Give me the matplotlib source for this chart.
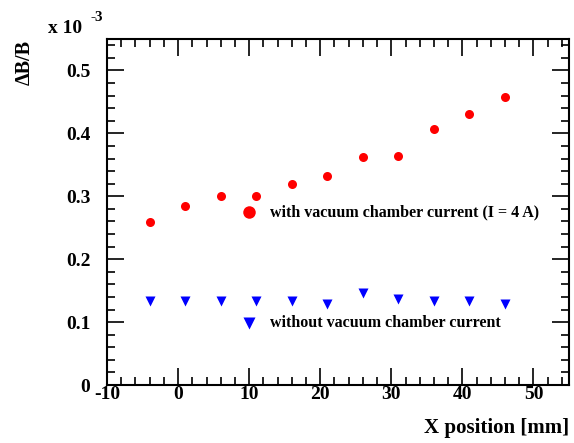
import numpy as np
from matplotlib import pyplot as plt
from matplotlib.ticker import MultipleLocator

# measurement positions [mm] and relative field error (units of 1e-3)
x_pos = [-4, 1, 6, 11, 16, 21, 26, 31, 36, 41, 46]
dB_with = [0.259, 0.285, 0.301, 0.301, 0.320, 0.332, 0.363, 0.364, 0.407, 0.431, 0.458]
dB_without = [0.133, 0.133, 0.133, 0.133, 0.133, 0.128, 0.147, 0.136, 0.133, 0.133, 0.128]

label_with = 'with vacuum chamber current (I = 4 A)'
label_without = 'without vacuum chamber current'

plt.rcParams['font.family'] = ['Liberation Serif', 'DejaVu Serif']
plt.rcParams['font.weight'] = 'bold'
plt.rcParams['axes.unicode_minus'] = False

fig = plt.figure(figsize=(5.74, 4.43), dpi=100)
ax = fig.add_axes([0.1864, 0.1309, 0.8049, 0.7811])

ax.plot(x_pos, dB_with, 'o', color='#ff0000', ms=6.5, mec='none')
ax.plot(x_pos, dB_without, 'v', color='#0000ff', ms=6.5, mec='none')

ax.set_xlim(-10, 55)
ax.set_ylim(0, 0.55)
ax.xaxis.set_major_locator(MultipleLocator(10))
ax.xaxis.set_minor_locator(MultipleLocator(2))
ax.yaxis.set_major_locator(MultipleLocator(0.1))
ax.yaxis.set_minor_locator(MultipleLocator(0.02))
ax.yaxis.set_major_formatter(lambda v, p: '0' if v == 0 else f'{v:.1f}')

ax.tick_params(which='both', direction='in', top=True, right=True, width=1.2)
ax.tick_params(which='major', length=12, labelsize=14)
ax.tick_params(which='minor', length=6)
ax.tick_params(axis='x', which='major', pad=1)
ax.tick_params(axis='y', which='major', pad=12)
for s in ax.spines.values():
    s.set_linewidth(1.5)

# legend drawn by hand like the ROOT original
ax.plot([10], [0.275], 'o', color='#ff0000', ms=9, mec='none')
ax.text(13, 0.275, label_with, fontsize=11.5, fontweight='bold', va='center')
ax.plot([10], [0.098], 'v', color='#0000ff', ms=9, mec='none')
ax.text(13, 0.098, label_without, fontsize=11.5, fontweight='bold', va='center')

ax.set_xlabel('X position [mm]', fontsize=15, fontweight='bold', loc='right')
ax.xaxis.set_label_coords(1.0, -0.095)
fig.text(0.043, 0.91, '\u0394B/B', rotation=90, fontsize=14.5, fontweight='bold', ha='center', va='top')
fig.text(0.084, 0.936, 'x 10', fontsize=14, fontweight='bold', va='center')
fig.text(0.158, 0.96, '-3', fontsize=11, fontweight='bold', va='center')

fig.savefig('out.png', dpi=100)
